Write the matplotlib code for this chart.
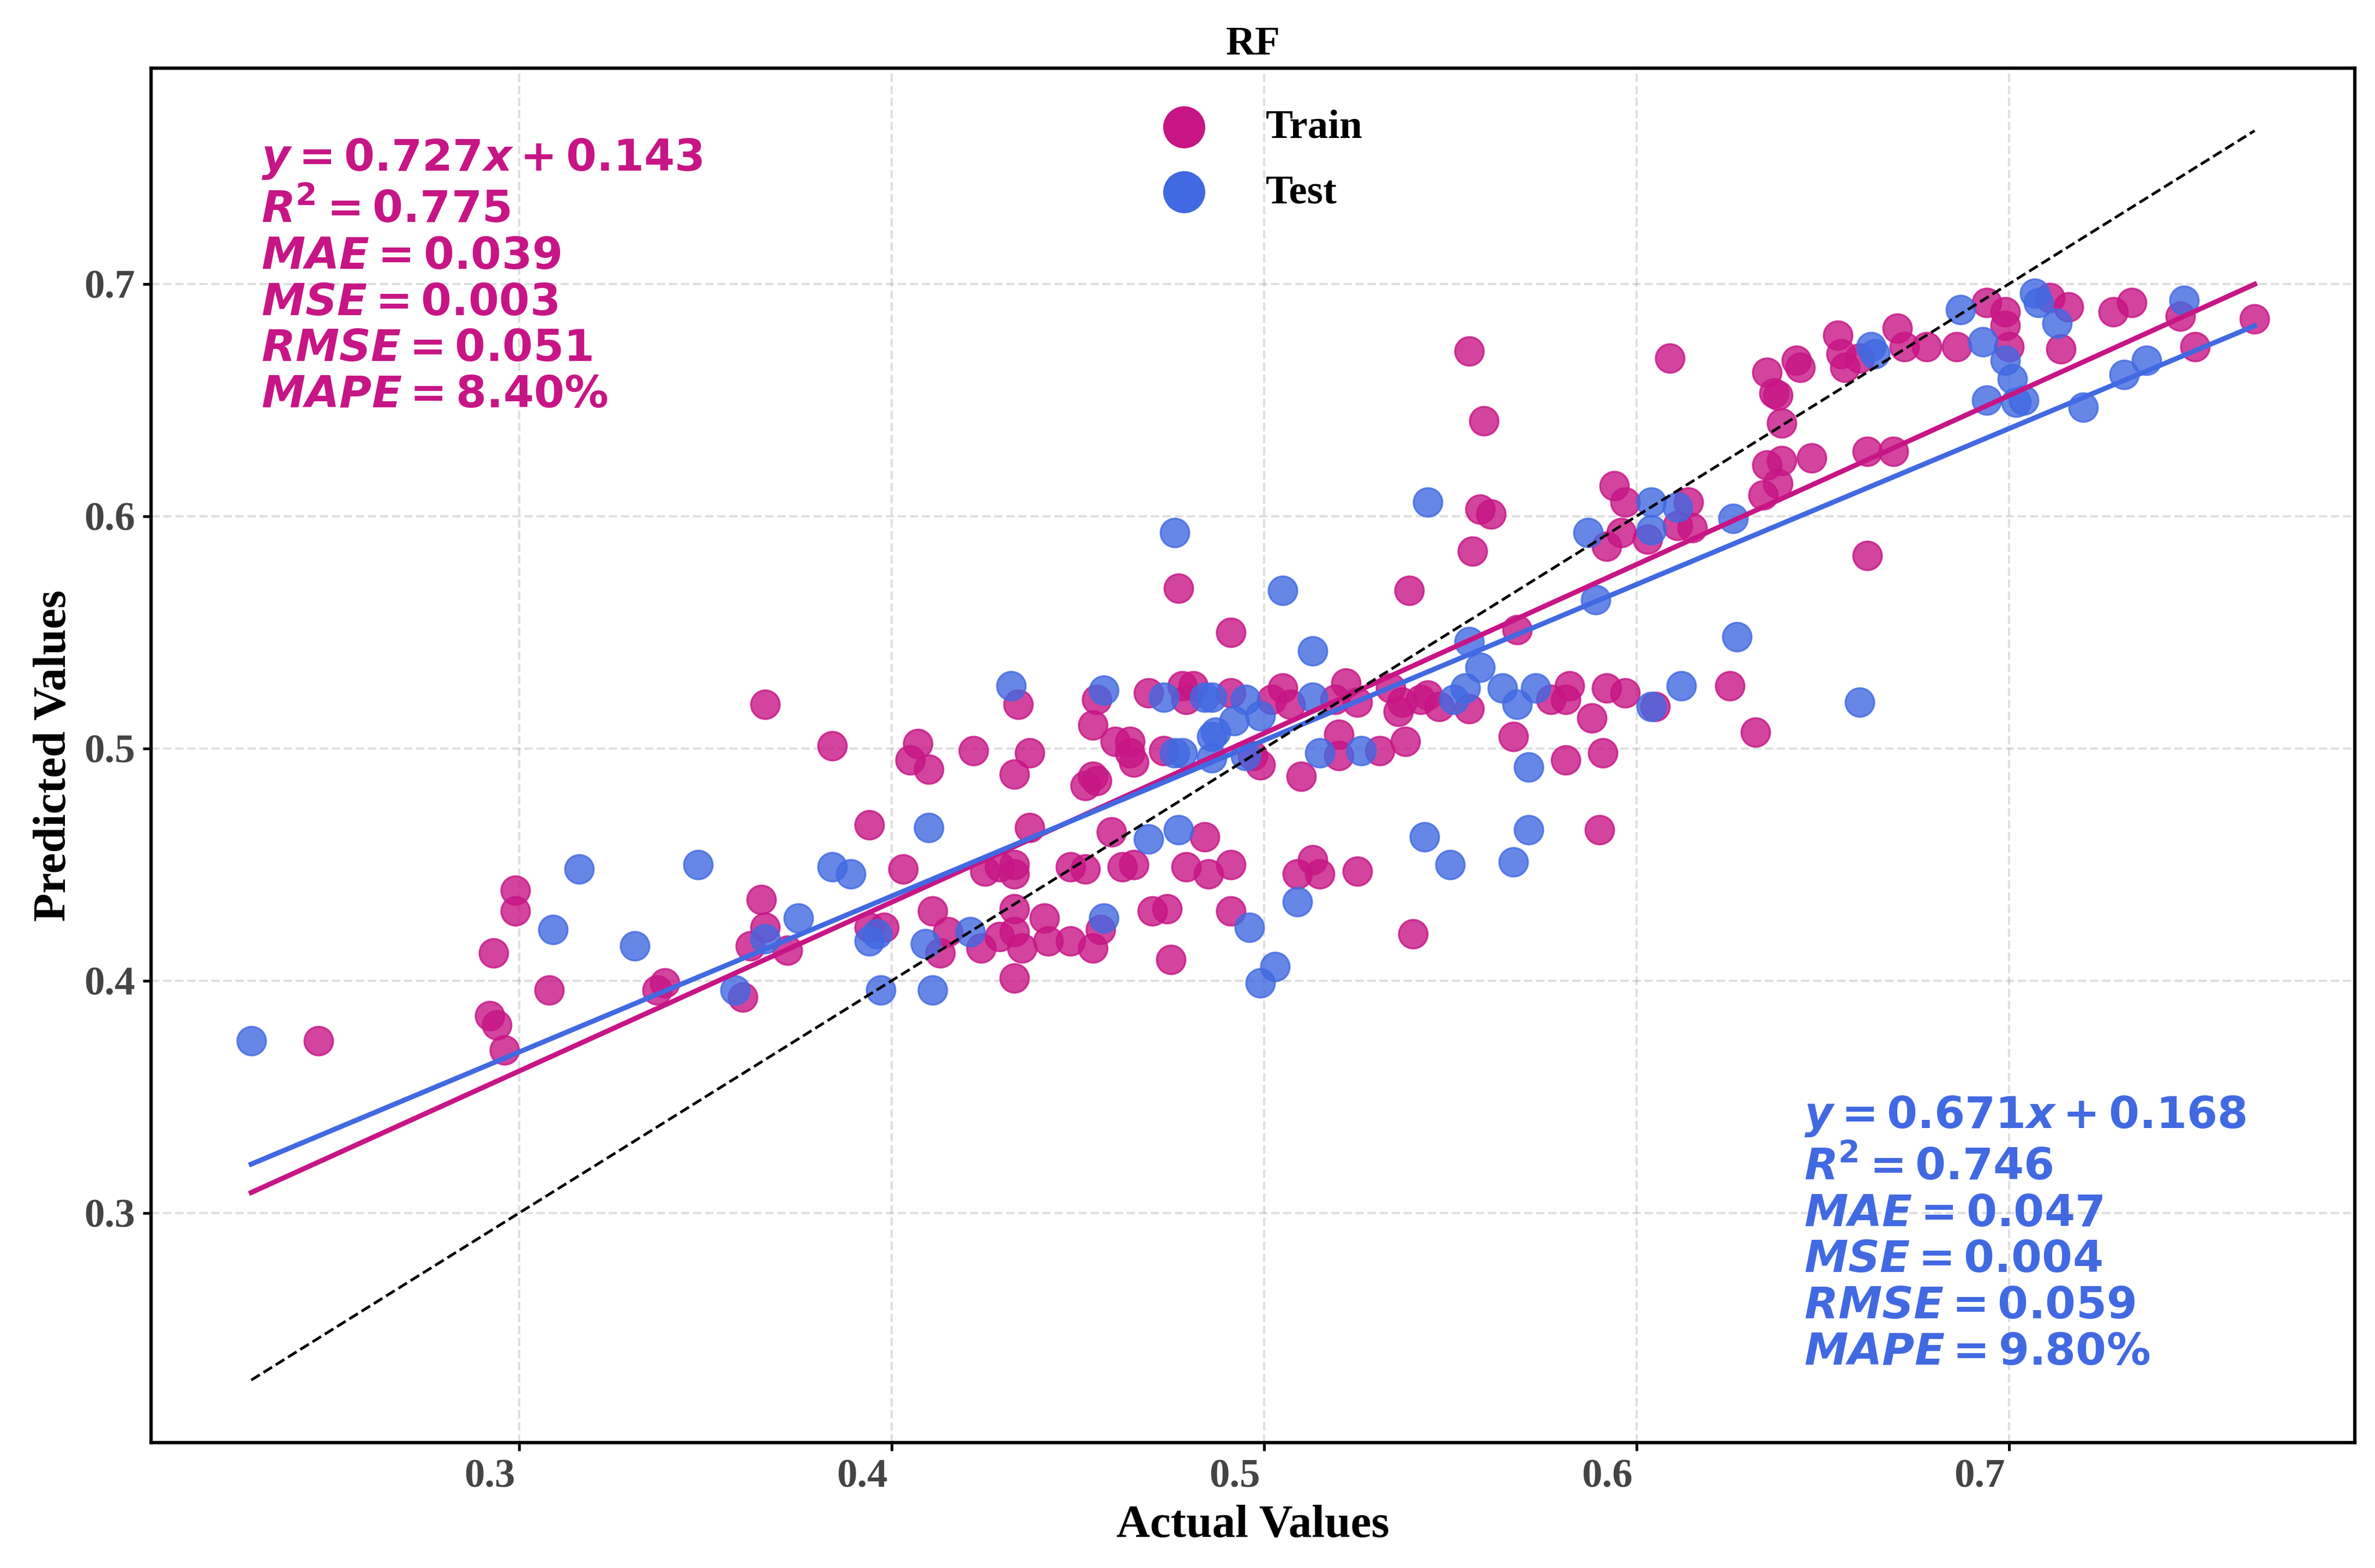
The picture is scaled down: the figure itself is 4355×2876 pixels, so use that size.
import numpy as np
import matplotlib
matplotlib.use("Agg")
import matplotlib.pyplot as plt
from matplotlib.transforms import ScaledTranslation

# ---------------- data ----------------
train_actual = [
    0.246, 0.293, 0.292, 0.294, 0.296, 0.299, 0.299, 0.308, 0.337, 0.339,
    0.362, 0.360, 0.365, 0.366, 0.366, 0.372, 0.384, 0.394, 0.394, 0.398,
    0.559, 0.555, 0.477, 0.491, 0.558, 0.561, 0.556, 0.539, 0.594, 0.597,
    0.592, 0.596, 0.603, 0.568, 0.434, 0.455, 0.454, 0.469, 0.478, 0.481,
    0.479, 0.491, 0.505, 0.502, 0.507, 0.522, 0.525, 0.519, 0.534, 0.537,
    0.536, 0.542, 0.544, 0.547, 0.555, 0.577, 0.581, 0.582, 0.588, 0.592,
    0.597, 0.567, 0.581, 0.591, 0.538, 0.520, 0.520, 0.531, 0.510, 0.499,
    0.497, 0.473, 0.460, 0.464, 0.465, 0.464, 0.454, 0.452, 0.455, 0.437,
    0.433, 0.422, 0.407, 0.405, 0.410, 0.437, 0.459, 0.484, 0.491, 0.485,
    0.479, 0.465, 0.462, 0.452, 0.448, 0.433, 0.429, 0.425, 0.433, 0.403,
    0.513, 0.509, 0.515, 0.525, 0.590, 0.491, 0.475, 0.470, 0.474, 0.540,
    0.411, 0.415, 0.413, 0.424, 0.429, 0.433, 0.433, 0.435, 0.441, 0.442,
    0.448, 0.454, 0.456, 0.433,
    0.609, 0.635, 0.638, 0.639, 0.637, 0.643, 0.644, 0.654, 0.655, 0.656,
    0.660, 0.670, 0.672, 0.678, 0.686, 0.694, 0.699, 0.699, 0.700, 0.711,
    0.716, 0.714, 0.728, 0.733, 0.746, 0.750, 0.766, 0.647, 0.662, 0.669,
    0.635, 0.639, 0.638, 0.634, 0.614, 0.615, 0.611, 0.662, 0.625, 0.632,
    0.605,
]
train_pred = [
    0.374, 0.412, 0.385, 0.381, 0.370, 0.439, 0.430, 0.396, 0.396, 0.399,
    0.415, 0.393, 0.435, 0.423, 0.519, 0.413, 0.501, 0.467, 0.423, 0.423,
    0.641, 0.671, 0.569, 0.550, 0.603, 0.601, 0.585, 0.568, 0.613, 0.606,
    0.587, 0.593, 0.590, 0.551, 0.519, 0.521, 0.510, 0.524, 0.527, 0.527,
    0.521, 0.524, 0.526, 0.521, 0.519, 0.528, 0.520, 0.521, 0.526, 0.520,
    0.516, 0.521, 0.523, 0.518, 0.517, 0.521, 0.521, 0.527, 0.513, 0.526,
    0.524, 0.505, 0.495, 0.498, 0.503, 0.506, 0.497, 0.499, 0.488, 0.493,
    0.497, 0.499, 0.503, 0.503, 0.494, 0.498, 0.488, 0.484, 0.486, 0.498,
    0.489, 0.499, 0.502, 0.495, 0.491, 0.466, 0.464, 0.462, 0.450, 0.446,
    0.449, 0.450, 0.449, 0.448, 0.449, 0.450, 0.449, 0.447, 0.446, 0.448,
    0.452, 0.446, 0.446, 0.447, 0.465, 0.430, 0.409, 0.430, 0.431, 0.420,
    0.430, 0.421, 0.412, 0.414, 0.419, 0.431, 0.421, 0.414, 0.427, 0.417,
    0.417, 0.414, 0.422, 0.401,
    0.668, 0.662, 0.652, 0.640, 0.653, 0.667, 0.664, 0.678, 0.670, 0.664,
    0.668, 0.681, 0.673, 0.673, 0.673, 0.692, 0.688, 0.682, 0.673, 0.694,
    0.690, 0.672, 0.688, 0.692, 0.686, 0.673, 0.685, 0.625, 0.628, 0.628,
    0.622, 0.624, 0.614, 0.609, 0.606, 0.595, 0.596, 0.583, 0.527, 0.507,
    0.518,
]
test_actual = [
    0.228, 0.316, 0.309, 0.331, 0.348, 0.358, 0.366, 0.375, 0.384, 0.389,
    0.394, 0.396, 0.397,
    0.476, 0.505, 0.513, 0.544, 0.587, 0.604, 0.604, 0.589, 0.555, 0.558,
    0.432, 0.457, 0.473, 0.484, 0.486, 0.495, 0.499, 0.492, 0.487, 0.513,
    0.551, 0.554, 0.564, 0.568, 0.573, 0.604, 0.571, 0.515, 0.526, 0.495,
    0.486, 0.476, 0.478, 0.486, 0.410, 0.469, 0.477, 0.543, 0.550, 0.571,
    0.567, 0.509, 0.496, 0.499, 0.503, 0.409, 0.421, 0.457, 0.411,
    0.611, 0.663, 0.664, 0.687, 0.693, 0.699, 0.701, 0.694, 0.702, 0.704,
    0.707, 0.708, 0.713, 0.747, 0.720, 0.731, 0.737, 0.626, 0.627, 0.612,
    0.660,
]
test_pred = [
    0.374, 0.448, 0.422, 0.415, 0.450, 0.396, 0.418, 0.427, 0.449, 0.446,
    0.417, 0.420, 0.396,
    0.593, 0.568, 0.542, 0.606, 0.593, 0.606, 0.594, 0.564, 0.546, 0.535,
    0.527, 0.525, 0.522, 0.522, 0.522, 0.521, 0.514, 0.512, 0.507, 0.522,
    0.521, 0.526, 0.526, 0.519, 0.526, 0.518, 0.492, 0.498, 0.499, 0.497,
    0.496, 0.498, 0.498, 0.505, 0.466, 0.461, 0.465, 0.462, 0.450, 0.465,
    0.451, 0.434, 0.423, 0.399, 0.406, 0.416, 0.421, 0.427, 0.396,
    0.604, 0.673, 0.670, 0.689, 0.675, 0.667, 0.659, 0.650, 0.649, 0.650,
    0.696, 0.692, 0.683, 0.693, 0.647, 0.661, 0.667, 0.599, 0.548, 0.527,
    0.520,
]

# fitted lines and scores printed on the chart
train_fit = (0.727, 0.143)
test_fit = (0.671, 0.168)
train_scores = [0.775, 0.039, 0.003, 0.051, 8.40]   # R2, MAE, MSE, RMSE, MAPE%
test_scores = [0.746, 0.047, 0.004, 0.059, 9.80]

train_color = '#C71585'
test_color = '#4169E1'

plt.rcParams['font.family'] = ['Liberation Serif', 'DejaVu Serif']
plt.rcParams['mathtext.fontset'] = 'dejavusans'


def score_text(fit, sc):
    k, b = fit
    lines = [
        rf"$\boldsymbol{{y = {k:.3f}x + {b:.3f}}}$",
        rf"$\boldsymbol{{R}}^{{\boldsymbol{{2}}}}\boldsymbol{{ = {sc[0]:.3f}}}$",
        rf"$\boldsymbol{{MAE = {sc[1]:.3f}}}$",
        rf"$\boldsymbol{{MSE = {sc[2]:.3f}}}$",
        rf"$\boldsymbol{{RMSE = {sc[3]:.3f}}}$",
        rf"$\boldsymbol{{MAPE = {sc[4]:.2f}\%}}$",
    ]
    return "\n".join(lines)


fig, ax = plt.subplots(figsize=(4355 / 300, 2876 / 300), dpi=300)
fig.subplots_adjust(left=0.0636, right=0.9915, top=0.9565, bottom=0.080)

ax.scatter(train_actual, train_pred, s=160, color=train_color, alpha=0.8,
           linewidths=0.8, label='Train', zorder=3)
ax.scatter(test_actual, test_pred, s=160, color=test_color, alpha=0.8,
           linewidths=0.8, label='Test', zorder=3)

all_x = np.array(train_actual + test_actual)
lo, hi = all_x.min(), all_x.max()
xs = np.linspace(lo, hi, 100)
ax.plot(xs, train_fit[0] * xs + train_fit[1], color=train_color, lw=2.2, zorder=4)
ax.plot(xs, test_fit[0] * xs + test_fit[1], color=test_color, lw=2.2, zorder=4)
ax.plot([lo, hi], [lo, hi], 'k--', lw=1.2, zorder=4)

ax.text(0.05, 0.95, score_text(train_fit, train_scores), transform=ax.transAxes,
        fontsize=19.4, color=train_color, va='top', ha='left', linespacing=1.21)
ax.text(0.75, 0.05, score_text(test_fit, test_scores), transform=ax.transAxes,
        fontsize=19.4, color=test_color, va='bottom', ha='left', linespacing=1.21)

ax.set_title('RF', fontsize=18, fontweight='bold', pad=6)
ax.set_xlabel('Actual Values', fontsize=20.5, fontweight='bold')
ax.set_ylabel('Predicted Values', fontsize=20.5, fontweight='bold')

ax.set_xticks([0.3, 0.4, 0.5, 0.6, 0.7])
ax.set_yticks([0.3, 0.4, 0.5, 0.6, 0.7])
ax.tick_params(labelsize=18, labelcolor='#444444', width=1.2)
for lbl in ax.get_xticklabels() + ax.get_yticklabels():
    lbl.set_fontweight('bold')
# x tick labels sit a little left of their ticks in the original
shift = ScaledTranslation(-13 / 72, 0, fig.dpi_scale_trans)
for tk in ax.xaxis.get_major_ticks():
    tk.label1.set_transform(tk.label1.get_transform() + shift)

ax.grid(True, linestyle='--', color='gray', alpha=0.25, lw=1)
for sp in ax.spines.values():
    sp.set_linewidth(1.5)
    sp.set_color('black')

leg = ax.legend(loc='upper center', frameon=False, markerscale=1.4,
                prop={'family': 'Liberation Serif', 'weight': 'bold', 'size': 18},
                labelspacing=0.68, handletextpad=1.0, borderaxespad=0.6)
for h in leg.legend_handles:
    h.set_alpha(1)

fig.savefig('out.png', dpi=300)
